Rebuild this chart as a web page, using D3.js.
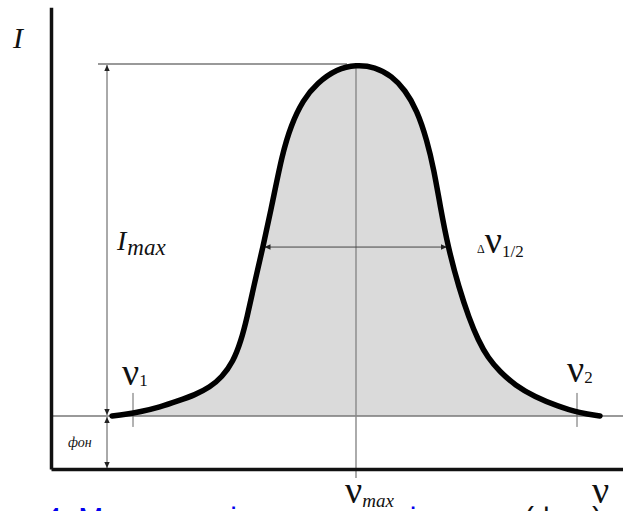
<!DOCTYPE html>
<html><head><meta charset="utf-8">
<script src="https://cdn.jsdelivr.net/npm/d3@7"></script>
<style>html,body{margin:0;padding:0;background:#fff;overflow:hidden}</style>
</head><body>
<script>
// Spectral line profile: frequency offset from the line centre (arb. units) and intensity (arb. units)
const nu = [-48.8,-46.2,-43.2,-39.2,-35.6,-32.2,-29.2,-26.8,-24.6,-23.0,-21.8,-20.4,-18.6,-16.6,-14.8,-13.0,-10.6,-7.8,-3.8,0,
            3.8,7.2,9.8,12.2,14.2,15.6,16.8,18.4,20.6,22.6,24.4,26.4,28.8,31.8,35.8,40.2,44.8,48.8];
const intensity = [13.1,13.5,14.1,15.3,16.8,18.3,20.2,22.7,26.4,31.6,37.3,45.4,54.8,66.4,77.5,84.9,91.1,95.3,98.8,99.8,
                   99.3,97.0,93.6,88.6,81.2,73.8,65.2,54.8,44.7,37.3,31.9,27.4,24.0,20.7,17.8,15.6,13.8,13.1];

// Characteristic levels and frequencies
const background = 13.1;      // фон
const imax = 100;             // I_max level
const halfLevel = 54.8;       // level of the half-width arrow
const nuMax = 0;
const nu1 = -44.6, nu2 = 44.2;
const halfWidthEnds = [-18.3, 18.2];
const arrowNu = -49.8;        // column of the vertical dimension arrows

const W = 623, H = 511;
const x = d3.scaleLinear().domain([-61, 53.4]).range([51, 623]);
const y = d3.scaleLinear().domain([0, 114]).range([469, 7.3]);

const svg = d3.select("body").append("svg").attr("width", W).attr("height", H);

const defs = svg.append("defs");
defs.append("marker").attr("id", "ah")
  .attr("viewBox", "0 0 10 10").attr("refX", 10).attr("refY", 5)
  .attr("markerWidth", 7).attr("markerHeight", 6).attr("markerUnits", "userSpaceOnUse")
  .attr("orient", "auto-start-reverse")
  .append("path").attr("d", "M0,0.5 L10,5 L0,9.5 Z").attr("fill", "#222");

const pts = nu.map((v, i) => [v, intensity[i]]);
const curve = d3.curveBasis;

// shaded area above the background level
svg.append("path").datum(pts)
  .attr("d", d3.area().x(d => x(d[0])).y0(y(background)).y1(d => y(d[1])).curve(curve))
  .attr("fill", "#dadada");

// background level
svg.append("line").attr("x1", x.range()[0]).attr("x2", x.range()[1])
  .attr("y1", y(background)).attr("y2", y(background))
  .attr("stroke", "#777").attr("stroke-width", 1.4);

// I_max level
svg.append("line").attr("x1", x(-51.6)).attr("x2", x(-1.8))
  .attr("y1", y(imax)).attr("y2", y(imax))
  .attr("stroke", "#999").attr("stroke-width", 2);

// line centre
svg.append("line").attr("x1", x(nuMax)).attr("x2", x(nuMax))
  .attr("y1", y(99)).attr("y2", y(0) + 9)
  .attr("stroke", "#888").attr("stroke-width", 1.4);

// vertical dimension arrows: I_max and фон
svg.append("line").attr("x1", x(arrowNu)).attr("x2", x(arrowNu))
  .attr("y1", y(imax) + 1).attr("y2", y(background) - 1)
  .attr("stroke", "#555").attr("stroke-width", 1)
  .attr("marker-start", "url(#ah)").attr("marker-end", "url(#ah)");
svg.append("line").attr("x1", x(arrowNu)).attr("x2", x(arrowNu))
  .attr("y1", y(background) + 1).attr("y2", y(0) - 1)
  .attr("stroke", "#555").attr("stroke-width", 1)
  .attr("marker-start", "url(#ah)").attr("marker-end", "url(#ah)");

// half-width arrow
svg.append("line").attr("x1", x(halfWidthEnds[0])).attr("x2", x(halfWidthEnds[1]))
  .attr("y1", y(halfLevel)).attr("y2", y(halfLevel))
  .attr("stroke", "#444").attr("stroke-width", 1)
  .attr("marker-start", "url(#ah)").attr("marker-end", "url(#ah)");

// ν1, ν2 marks
[nu1, nu2].forEach(v => {
  svg.append("line").attr("x1", x(v)).attr("x2", x(v))
    .attr("y1", y(background) - 23).attr("y2", y(background) + 11)
    .attr("stroke", "#666").attr("stroke-width", 1);
});

// profile outline
svg.append("path").datum(pts)
  .attr("d", d3.line().x(d => x(d[0])).y(d => y(d[1])).curve(curve))
  .attr("fill", "none").attr("stroke", "#000").attr("stroke-width", 5.5)
  .attr("stroke-linecap", "round").attr("stroke-linejoin", "round");

// axes
const axisStyle = g => {
  g.select(".domain").attr("stroke", "#111").attr("stroke-width", 3.5);
};
svg.append("g").attr("transform", `translate(${x.range()[0]},0)`)
  .call(d3.axisLeft(y).tickValues([]).tickSizeOuter(0)).call(axisStyle);
svg.append("g").attr("transform", `translate(0,${y(0)})`)
  .call(d3.axisBottom(x).tickValues([]).tickSizeOuter(0)).call(axisStyle);

// labels
const serif = "'Liberation Serif', 'Times New Roman', serif";
function label(px, py, parts) {
  const t = svg.append("text").attr("x", px).attr("y", py)
    .attr("font-family", serif).attr("fill", "#111");
  parts.forEach(p => {
    const s = t.append("tspan").text(p.t).attr("font-size", p.size);
    if (p.italic) s.attr("font-style", "italic");
    if (p.dy) s.attr("dy", p.dy);
    if (p.dx) s.attr("dx", p.dx);
  });
  return t;
}

label(13, 48, [{t: "I", size: 30, italic: true}]);
label(x(arrowNu) + 10, y(halfLevel) + 3, [{t: "I", size: 28, italic: true}, {t: "max", size: 23, italic: true, dy: 5, dx: 1}]);
label(x(halfWidthEnds[1]) + 30, y(halfLevel) + 6, [{t: "Δ", size: 12}, {t: "ν", size: 38}, {t: "1/2", size: 17, dy: 4}]);
label(x(nu1) - 11, y(background) - 31, [{t: "ν", size: 38}, {t: "1", size: 17, dy: 1}]);
label(x(nu2) - 10, y(background) - 34, [{t: "ν", size: 38}, {t: "2", size: 17, dy: 1}]);
label(x(nuMax) - 11, y(0) + 34, [{t: "ν", size: 38}, {t: "max", size: 19, italic: true, dy: 4}]);
label(592, 503, [{t: "ν", size: 38}]);
label(x(arrowNu) - 39, y(background) + 31, [{t: "фон", size: 14, italic: true}]);

// figure caption
const cap = svg.append("text").attr("y", 528).attr("font-family", "'Liberation Sans', Arial, sans-serif").attr("font-size", 30);
cap.append("tspan").attr("x", 45).attr("fill", "#0000ee").text("4. Максимум інтенсивності");
cap.append("tspan").attr("x", 524).attr("fill", "#111").text("(фон)");
</script>
</body></html>
